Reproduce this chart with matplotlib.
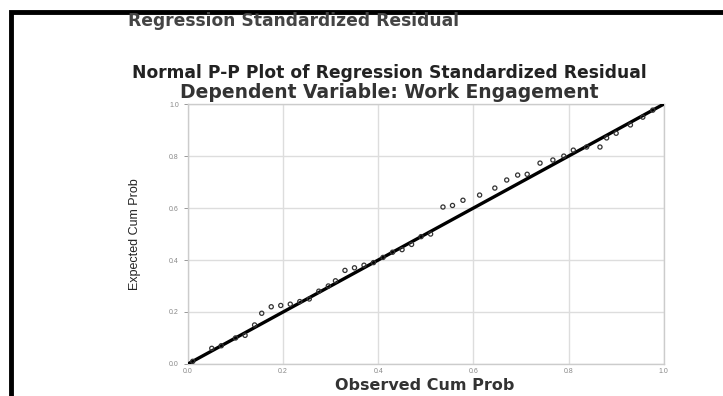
import matplotlib
matplotlib.use("Agg")
import matplotlib.pyplot as plt
from matplotlib.patches import Rectangle

# observed vs expected cumulative probabilities
observed = [0.01, 0.05, 0.07, 0.10, 0.12, 0.14, 0.155, 0.175, 0.195, 0.215, 0.235,
            0.255, 0.275, 0.295, 0.31, 0.33, 0.35, 0.37, 0.39, 0.41, 0.43, 0.45,
            0.47, 0.49, 0.51, 0.536, 0.556, 0.578, 0.613, 0.645, 0.67, 0.693, 0.713,
            0.74, 0.767, 0.79, 0.81, 0.838, 0.866, 0.88, 0.90, 0.93, 0.956, 0.977]
expected = [0.01, 0.06, 0.07, 0.10, 0.11, 0.15, 0.195, 0.22, 0.225, 0.23, 0.24,
            0.25, 0.28, 0.30, 0.32, 0.36, 0.37, 0.38, 0.39, 0.41, 0.43, 0.44,
            0.46, 0.49, 0.50, 0.604, 0.61, 0.63, 0.65, 0.677, 0.708, 0.727, 0.73,
            0.773, 0.785, 0.80, 0.823, 0.835, 0.835, 0.87, 0.888, 0.92, 0.95, 0.977]
ticks = [0.0, 0.2, 0.4, 0.6, 0.8, 1.0]
tick_labels = ["0.0", "0.2", "0.4", "0.6", "0.8", "1.0"]

plt.rcParams['font.family'] = ['Liberation Sans', 'DejaVu Sans']
wide = ['DejaVu Sans']

fig = plt.figure(figsize=(7.23, 3.96), dpi=100)
ax = fig.add_axes([0.260, 0.081, 0.658, 0.656])

ax.plot([0, 1], [0, 1], color='black', linewidth=2.4, zorder=3)
ax.scatter(observed, expected, s=9, facecolors='none', edgecolors='#333333',
           linewidths=0.9, zorder=4)

ax.set_xlim(0, 1)
ax.set_ylim(0, 1)
ax.set_xticks(ticks)
ax.set_yticks(ticks)
ax.set_xticklabels(tick_labels)
ax.set_yticklabels(tick_labels)
ax.tick_params(axis='both', labelsize=5, colors='#888888', length=3, width=0.6)
ax.tick_params(axis='x', length=0, pad=3)
ax.grid(True, color='#dddddd', linewidth=1.0)
for side in ax.spines.values():
    side.set_color('#cccccc')
    side.set_linewidth(1.0)

ax.set_ylabel('Expected Cum Prob', fontsize=9,
              family=['Liberation Sans Narrow', 'Liberation Sans'], color='#222222',
              labelpad=20)

fig.text(0.588, 0.008, 'Observed Cum Prob', fontsize=11.5, fontweight='bold',
         family=wide, color='#333333', ha='center', va='bottom')
fig.text(0.177, 0.948, 'Regression Standardized Residual', fontsize=12.3,
         fontweight='bold', family=wide, color='#444444', ha='left', va='center')
fig.text(0.539, 0.816, 'Normal P-P Plot of Regression Standardized Residual',
         fontsize=12.3, fontweight='bold', family=wide, color='#222222',
         ha='center', va='center')
fig.text(0.539, 0.766, 'Dependent Variable: Work Engagement',
         fontsize=13.5, fontweight='bold', family=wide, color='#333333',
         ha='center', va='center')

# black frame around the pasted figure
fig.add_artist(Rectangle((11 / 723, -0.1), 1.2, 1 - 11.5 / 396 + 0.1,
                         transform=fig.transFigure, fill=False,
                         edgecolor='black', linewidth=3.5))

fig.savefig('out.png', dpi=100)
